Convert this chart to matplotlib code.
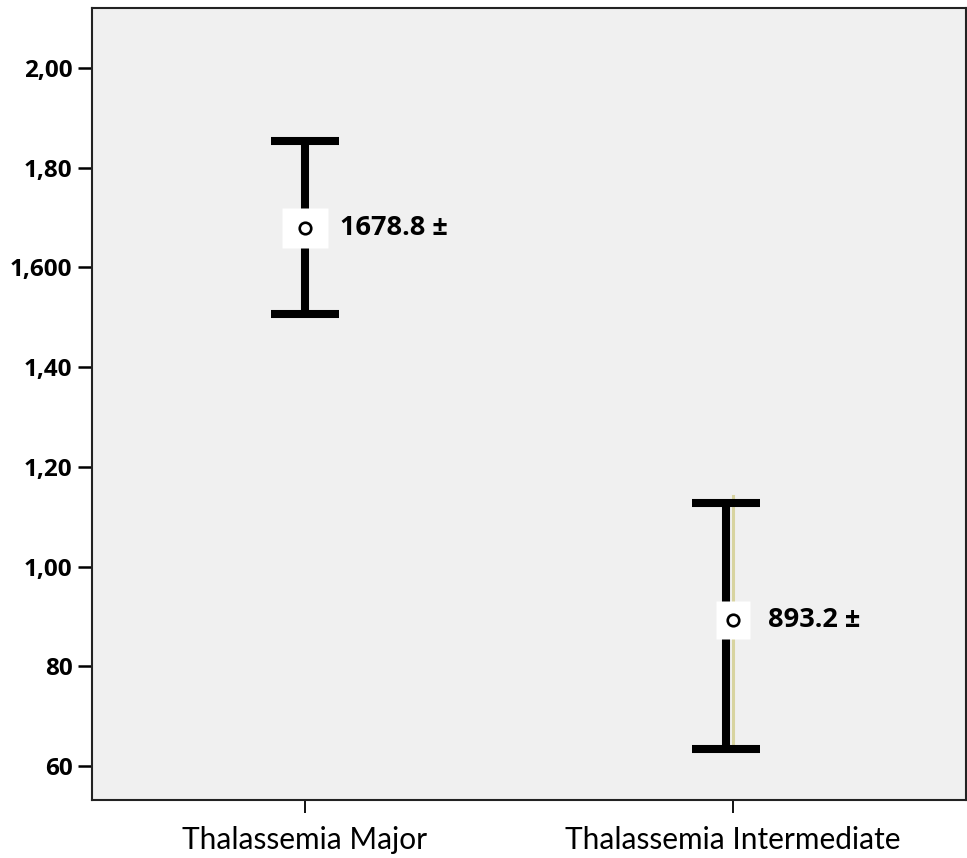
import matplotlib.pyplot as plt
import numpy as np

plt.rcParams['font.family'] = ['Lato', 'DejaVu Sans']

groups = ['Thalassemia Major', 'Thalassemia Intermediate']
means = [1678.8, 893.2]
upper = [1854, 1128]
lower = [1507, 634]
labels = ['1678.8 \u00b1', '893.2 \u00b1']
# thin olive line seen behind the second bar
extra_top = 1142
extra_bottom = 646

yticks = [600, 800, 1000, 1200, 1400, 1600, 1800, 2000]
yticklabels = ['60', '80', '1,00', '1,20', '1,40', '1,600', '1,80', '2,00']

fig = plt.figure(figsize=(9.67, 8.58), dpi=100)
ax = fig.add_axes([0.0951, 0.0676, 0.904, 0.9231])
ax.set_facecolor('#f0f0f0')

x = np.arange(len(groups))
means = np.array(means)
yerr = [means - np.array(lower), np.array(upper) - means]
bar_shift = np.array([0.0, -0.016])

ax.plot([1, 1], [extra_bottom, extra_top], color='#d8d4a0', lw=2.2, zorder=1)
ax.errorbar(x + bar_shift, means, yerr=yerr, fmt='none', ecolor='black',
            elinewidth=5.8, capsize=24.5, capthick=5.8, zorder=2)

# white boxes behind the mean markers
box_major = [(-23, -20), (23, -20), (23, 20), (-23, 20), (-23, -20)]
box_inter = [(-17, -19.5), (17, -19.5), (17, 19.5), (-17, 19.5), (-17, -19.5)]
ax.plot(x[0], means[0], marker=box_major, ms=33, mfc='white', mec='none', zorder=3)
ax.plot(x[1], means[1], marker=box_inter, ms=28, mfc='white', mec='none', zorder=3)
ax.plot(x, means, 'o', ms=8.3, mfc='white', mec='black', mew=1.9, zorder=4)

for xi, m, t in zip(x, means, labels):
    ax.annotate(t, (xi, m), xytext=(25, 0), textcoords='offset points',
                ha='left', va='center', fontsize=19.5, fontweight='bold',
                family=['Open Sans', 'DejaVu Sans'])

ax.set_xlim(-0.4977, 1.544)
ax.set_ylim(531.8, 2120.6)
ax.set_xticks(x)
ax.set_xticklabels(groups, fontsize=21.5)
ax.set_yticks(yticks)
ax.set_yticklabels(yticklabels, fontsize=17.5, fontweight='bold',
                   family=['Open Sans', 'DejaVu Sans'])
ax.tick_params(axis='y', length=10, width=1.8, pad=4)
ax.tick_params(axis='x', length=9, width=1.3, pad=10)
for s in ax.spines.values():
    s.set_linewidth(1.5)
    s.set_color('#222222')

fig.savefig('out.png', dpi=100)
